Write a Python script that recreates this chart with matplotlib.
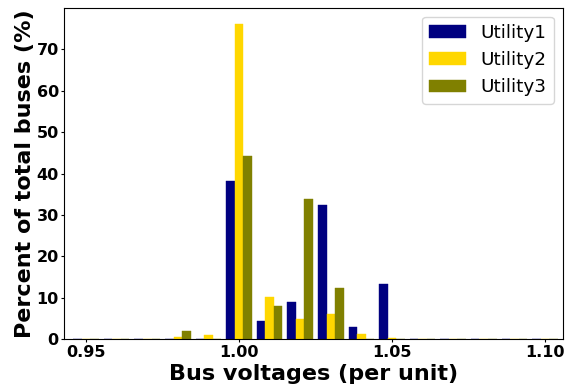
import numpy as np
import matplotlib
matplotlib.use("Agg")
import matplotlib.pyplot as plt

voltages = [0.95, 0.96, 0.97, 0.98, 0.99, 1.00, 1.01, 1.02, 1.03, 1.04, 1.05,
            1.06, 1.07, 1.08, 1.09, 1.10]
utility1 = [0, 0, 0, 0, 0, 38.2, 4.4, 9.0, 32.4, 3.0, 13.4, 0, 0, 0, 0, 0]
utility2 = [0, 0, 0, 0.6, 1.1, 76.0, 10.2, 4.9, 6.1, 1.3, 0.4, 0, 0, 0, 0, 0]
utility3 = [0, 0, 0, 2.0, 0, 44.2, 8.1, 33.9, 12.4, 0, 0, 0, 0, 0, 0, 0]
series_names = ["Utility1", "Utility2", "Utility3"]
colors = ["navy", "gold", "olive"]

fig = plt.figure(figsize=(5.68, 3.85), dpi=100)
ax = fig.add_axes([0.1127, 0.1182, 0.9912 - 0.1127, 0.9805 - 0.1182])

x = np.array(voltages)
w = 0.0028
for i, (vals, name, c) in enumerate(zip([utility1, utility2, utility3], series_names, colors)):
    ax.bar(x + (i - 1) * w, vals, width=w, color=c, label=name,
           edgecolor=c, linewidth=0.3)

ax.set_xlim(0.9428, 1.1059)
ax.set_ylim(0, 80)
ax.set_xticks([0.95, 1.00, 1.05, 1.10])
ax.set_xticklabels(["0.95", "1.00", "1.05", "1.10"])
ax.set_yticks([0, 10, 20, 30, 40, 50, 60, 70])
ax.tick_params(axis="both", length=2.5, pad=1.2)
for lab in ax.get_xticklabels() + ax.get_yticklabels():
    lab.set_fontsize(11.5)
    lab.set_fontweight("bold")
ax.set_xlabel("Bus voltages (per unit)", fontsize=16, fontweight="bold", labelpad=3)
ax.set_ylabel("Percent of total buses (%)", fontsize=16, fontweight="bold", labelpad=1)
ax.legend(loc="upper right", fontsize=13.2)

fig.savefig("out.png", dpi=100)
